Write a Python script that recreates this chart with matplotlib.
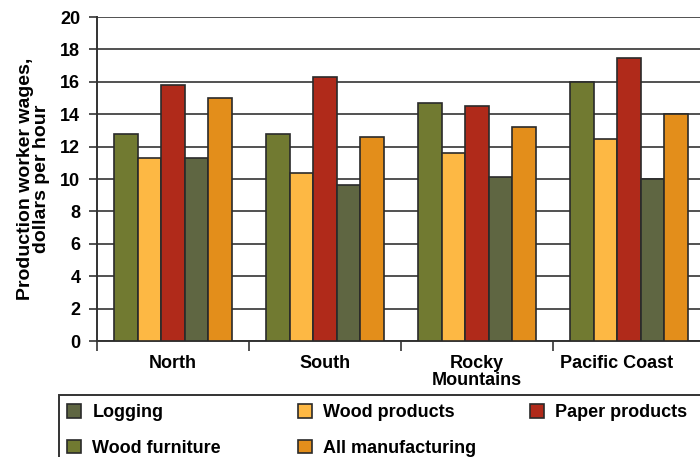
import numpy as np
import matplotlib
matplotlib.use("Agg")
import matplotlib.pyplot as plt
import matplotlib.transforms as mtransforms
from matplotlib.patches import Patch, Rectangle

plt.rcParams['font.family'] = ['Liberation Sans', 'DejaVu Sans']
plt.rcParams['font.weight'] = 'bold'

# regions on the x axis
regions = ["North", "South", "Rocky\nMountains", "Pacific Coast"]

# series, in the order the bars are drawn
wood_furniture = [12.8, 12.8, 14.7, 16.0]
wood_products = [11.3, 10.4, 11.6, 12.5]
paper_products = [15.8, 16.3, 14.5, 17.5]
logging = [11.3, 9.6, 10.1, 10.0]
all_manufacturing = [15.0, 12.6, 13.2, 14.0]

series = [
    ("Wood furniture", wood_furniture, "#717a31"),
    ("Wood products", wood_products, "#fdb844"),
    ("Paper products", paper_products, "#b02a1a"),
    ("Logging", logging, "#5f6642"),
    ("All manufacturing", all_manufacturing, "#e38e1b"),
]

W, H = 700, 457
fig = plt.figure(figsize=(W / 100, H / 100), dpi=100)
ax = fig.add_axes([97 / W, 1 - 341 / H, 608 / W, 324 / H])

x = np.arange(len(regions))
bw = 0.155
handles = {}
for i, (name, vals, col) in enumerate(series):
    pos = x + (i - 2) * bw
    ax.bar(pos, vals, width=bw, color=col, edgecolor="#2a2a2a", linewidth=1.2, zorder=3)
    handles[name] = Patch(facecolor=col, edgecolor="#2a2a2a", linewidth=1.2)

ax.set_xlim(-0.5, len(regions) - 0.5)
ax.set_ylim(0, 20)
ax.set_yticks(range(0, 21, 2))
ax.yaxis.grid(True, color="#333333", linewidth=1.2, zorder=0)
ax.tick_params(axis="y", labelsize=13, length=6, width=1.2, color="#333333", pad=6)

ax.set_xticks(x)
ax.set_xticklabels(regions, fontsize=13, fontweight="bold", linespacing=1.0)
ax.tick_params(axis="x", length=0, pad=10)
ax.set_xticks(np.arange(len(regions) + 1) - 0.5, minor=True)
ax.tick_params(axis="x", which="minor", length=7, width=1.2, color="#333333")
for lab in ax.get_yticklabels():
    lab.set_fontweight("bold")

# last label sits a little left so it stays inside the picture
last = ax.get_xticklabels()[-1]
last.set_transform(last.get_transform() +
                   mtransforms.ScaledTranslation(-12 / 100, 0, fig.dpi_scale_trans))

for s in ["top", "right"]:
    ax.spines[s].set_visible(False)
for s in ["left", "bottom"]:
    ax.spines[s].set_color("#333333")
    ax.spines[s].set_linewidth(1.4)

ax.set_ylabel("Production worker wages,\ndollars per hour", fontsize=14,
              fontweight="bold", linespacing=0.95, labelpad=7)

# legend: three columns placed by hand, one shared frame
columns = [["Logging", "Wood furniture"], ["Wood products", "All manufacturing"],
           ["Paper products"]]
col_x = [67, 298, 530]
for names, cx in zip(columns, col_x):
    leg = fig.legend([handles[n] for n in names], names, loc="upper left",
                     bbox_to_anchor=(cx / W, 1 - 404 / H), frameon=False,
                     fontsize=13, handlelength=0.8, handleheight=0.8,
                     handletextpad=0.6, borderaxespad=0, borderpad=0,
                     labelspacing=1.02)
    for t in leg.get_texts():
        t.set_fontweight("bold")

fig.patches.append(Rectangle((59 / W, -0.05), 0.95, 0.05 + 62 / H,
                             transform=fig.transFigure, fill=False,
                             edgecolor="#333333", linewidth=1.4))

fig.savefig("out.png", dpi=100)
